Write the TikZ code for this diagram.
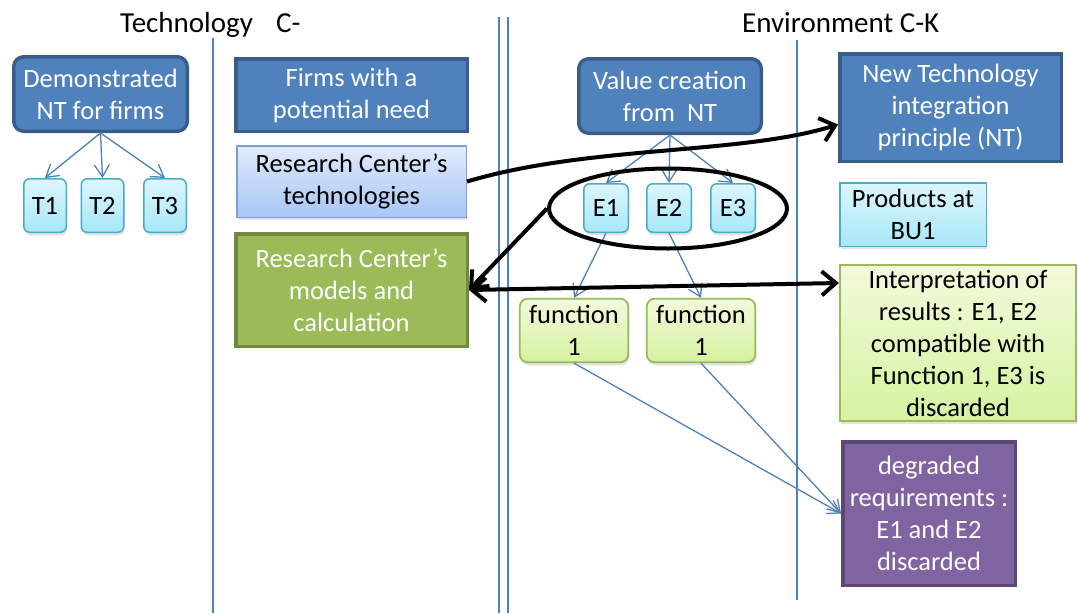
\documentclass[tikz,border=0pt]{standalone}
\usepackage{fontspec}
\setmainfont{Carlito}
\usetikzlibrary{arrows.meta,shapes.geometric,shadows}
\definecolor{nblue}{HTML}{4F81BD}
\definecolor{bblue}{HTML}{385D8A}
\definecolor{cyanB}{HTML}{4BACC6}
\definecolor{cyanT}{HTML}{DDF6FC}
\definecolor{cyanBot}{HTML}{A6E8F8}
\definecolor{ltT}{HTML}{E1EBFB}
\definecolor{ltB}{HTML}{A8C6F6}
\definecolor{ltD}{HTML}{7BA0D6}
\definecolor{ngreen}{HTML}{9BBB59}
\definecolor{bgreen}{HTML}{71893F}
\definecolor{lgT}{HTML}{F2FADC}
\definecolor{lgB}{HTML}{D6F2A0}
\definecolor{npurple}{HTML}{8064A2}
\definecolor{bpurple}{HTML}{5C4776}
\begin{document}
\begin{tikzpicture}[x=1pt,y=-1pt,
  every node/.style={inner sep=0pt, align=center},
  boxfont/.style={font=\fontsize{26.5}{32}\selectfont},
  shad/.style={drop shadow={opacity=0.22, shadow xshift=1pt, shadow yshift=-3pt}},
  bluebox/.style={boxfont, draw=bblue, fill=nblue, line width=3.5pt, text=white},
  greenbox/.style={boxfont, draw=bgreen, fill=ngreen, line width=3.5pt, text=white},
  purplebox/.style={boxfont, draw=bpurple, fill=npurple, line width=3.5pt, text=white},
  cyanbox/.style={boxfont, shad, draw=cyanB, line width=1.5pt, top color=cyanT, bottom color=cyanBot},
  techbox/.style={boxfont, shad, draw=ltD, line width=1.5pt, top color=ltT, bottom color=ltB},
  funcbox/.style={boxfont, shad, draw=ngreen, line width=1.8pt, top color=lgT, bottom color=lgB},
  vline/.style={draw=nblue, line width=1.3pt},
  tarrow/.style={draw=nblue, line width=1.3pt, -{Straight Barb[length=12pt,width=15pt]}},
  barrow/.style={draw=black, line width=4pt, -{Straight Barb[length=14pt,width=24pt]}},
  titlefont/.style={font=\fontsize{29}{32}\selectfont}
]
\useasboundingbox[fill=white] (0,0) rectangle (1078,613);

% separators
\draw[vline] (213,38) -- (213,613);
\draw[vline] (499,17) -- (499,613);
\draw[vline] (508,17) -- (508,613);
\draw[vline] (797,40) -- (797,600);

% titles
\node[titlefont, anchor=base west] (ttech) at (120,32) {Technology\hspace{0.8em}C-};
\node[titlefont, anchor=base west] (tenv) at (742,32) {Environment C-K};

% left column
\node[bluebox, rounded corners=10pt, minimum width=173.5, minimum height=74.5] (demo) at (100.5,94) {Demonstrated\\NT for firms};
\node[cyanbox, rounded corners=6pt, minimum width=42.5, minimum height=53.5] (T1) at (45,205.5) {T1};
\node[cyanbox, rounded corners=6pt, minimum width=42.5, minimum height=53.5] (T2) at (102.5,205.5) {T2};
\node[cyanbox, rounded corners=6pt, minimum width=42.5, minimum height=53.5] (T3) at (165,205.5) {T3};

% second column
\node[bluebox, minimum width=231.5, minimum height=72.5] (firms) at (351.5,95) {Firms with a\\potential need};
\node[techbox, minimum width=229.5, minimum height=71.5] (rctech) at (351.5,181.5) {Research Center’s\\technologies};
\node[greenbox, minimum width=231.5, minimum height=112.5] (rcmodels) at (351.5,290) {Research Center’s\\models and\\calculation};

% third column
\node[bluebox, rounded corners=10pt, minimum width=182.5, minimum height=74.5] (value) at (670,96) {Value creation\\from\ \ NT};
\node[cyanbox, rounded corners=6pt, minimum width=44.5, minimum height=48.5] (E1) at (606,208) {E1};
\node[cyanbox, rounded corners=6pt, minimum width=44.5, minimum height=48.5] (E2) at (669,208) {E2};
\node[cyanbox, rounded corners=6pt, minimum width=44.5, minimum height=48.5] (E3) at (733,208) {E3};
\node[funcbox, rounded corners=8pt, minimum width=108.5, minimum height=63.5] (f1) at (574,330.5) {function\\1};
\node[funcbox, rounded corners=8pt, minimum width=108.5, minimum height=63.5] (f2) at (701,330.5) {function\\1};

% fourth column
\node[bluebox, minimum width=221.5, minimum height=107.5] (newtech) at (950.5,107.5) {New Technology\\integration\\principle (NT)};
\node[cyanbox, minimum width=146.5, minimum height=63.5] (products) at (913,214.5) {Products at\\BU1};
\node[funcbox, minimum width=236.5, minimum height=156.5] (interp) at (958,343) {Interpretation of\\results : E1, E2\\compatible with\\Function 1, E3 is\\discarded};
\node[purplebox, minimum width=172.5, minimum height=143.5] (deg) at (929,513.5) {degraded\\requirements :\\E1 and E2\\discarded};

% thin connectors
\draw[tarrow] (demo.south) -- (T1.north);
\draw[tarrow] (demo.south) -- (T2.north);
\draw[tarrow] (demo.south) -- (T3.north);
\draw[tarrow] (value.south) -- (E1.north);
\draw[tarrow] (value.south) -- (E2.north);
\draw[tarrow] (value.south) -- (E3.north);
\draw[tarrow] (E1.south) -- (f1.north);
\draw[tarrow] (E2.south) -- (f2.north);
\draw[tarrow] (f1.south) -- (deg.west);
\draw[tarrow] (f2.south) -- (deg.west);

% ellipse and thick connectors
\node[draw, ellipse, line width=4pt, minimum width=238, minimum height=80] (ell) at (668,208.5) {};
\draw[barrow] (rctech.east) .. controls (590,145) and (740,155) .. ([yshift=-17pt]newtech.west);
\draw[barrow] (ell.west) -- (rcmodels.east);
\draw[line width=4pt, {Straight Barb[length=14pt,width=24pt]}-{Straight Barb[length=14pt,width=24pt]}] (rcmodels.east) -- ([yshift=60pt]interp.west);
\end{tikzpicture}
\end{document}
